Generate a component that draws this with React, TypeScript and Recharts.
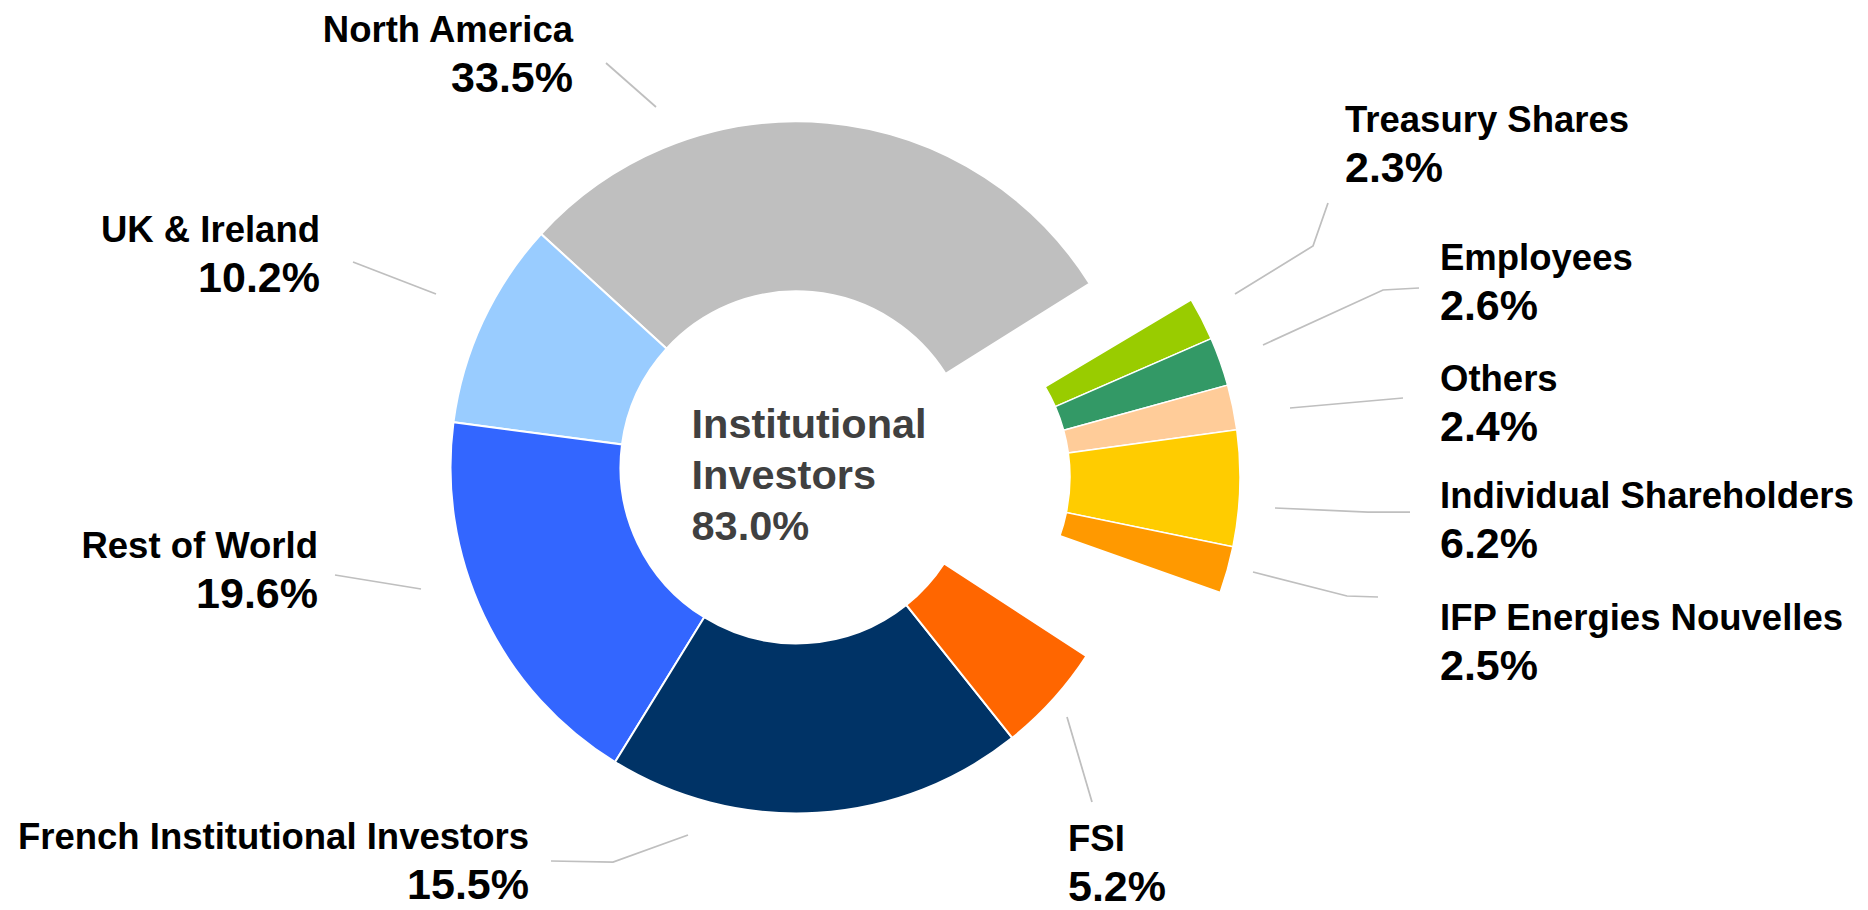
import React from 'react';
import { PieChart, Pie, Cell } from 'recharts';

// Slices that stay in the ring
const ringNames = ['North America', 'UK & Ireland', 'Rest of World', 'French Institutional Investors', 'FSI'];
const ringShares = [33.5, 10.2, 19.6, 15.5, 5.2];
// Size of each slice as it is drawn in the picture (% of the full circle)
const ringArcs = [29.3, 9.7, 18.3, 19.5, 5.1];
const ringGap = 18.1; // empty part of the ring left by the pulled-out slices
const ringColors = ['#BFBFBF', '#99CCFF', '#3366FF', '#003366', '#FF6600'];

// Slices pulled out of the ring (right side)
const outNames = ['Treasury Shares', 'Employees', 'Others', 'Individual Shareholders', 'IFP Energies Nouvelles'];
const outShares = [2.3, 2.6, 2.4, 6.2, 2.5];
const outColors = ['#99CC00', '#339966', '#FFCC99', '#FFCC00', '#FF9900'];

// Text in the hole
const centerTitle = ['Institutional', 'Investors'];
const centerShare = 83.0;

const FONT = '"Liberation Sans", Arial, sans-serif';

// tables for Recharts
const ringData = [
  ...ringNames.map((name, i) => ({ name, share: ringShares[i], arc: ringArcs[i], color: ringColors[i] })),
  { name: '__gap', share: 0, arc: ringGap, color: 'none' },
];
const outData = outNames.map((name, i) => ({ name, share: outShares[i], arc: outShares[i], color: outColors[i] }));

// where each label and its leader line goes (layout only)
type Spot = { x: number; y: number; anchor: 'start' | 'end'; line: number[][] };
const spots: Record<string, Spot> = {
  'North America': { x: 573, y: 42, anchor: 'end', line: [[606, 63], [656, 107]] },
  'UK & Ireland': { x: 320, y: 242, anchor: 'end', line: [[353, 262], [436, 294]] },
  'Rest of World': { x: 318, y: 558, anchor: 'end', line: [[335, 575], [421, 589]] },
  'French Institutional Investors': { x: 529, y: 849, anchor: 'end', line: [[551, 861], [613, 862], [688, 835]] },
  FSI: { x: 1068, y: 851, anchor: 'start', line: [[1067, 717], [1092, 802]] },
  'Treasury Shares': { x: 1345, y: 132, anchor: 'start', line: [[1328, 203], [1313, 246], [1235, 294]] },
  Employees: { x: 1440, y: 270, anchor: 'start', line: [[1419, 288], [1383, 290], [1263, 345]] },
  Others: { x: 1440, y: 391, anchor: 'start', line: [[1403, 398], [1290, 408]] },
  'Individual Shareholders': { x: 1440, y: 508, anchor: 'start', line: [[1410, 512], [1368, 512], [1275, 508]] },
  'IFP Energies Nouvelles': { x: 1440, y: 630, anchor: 'start', line: [[1378, 597], [1347, 596], [1253, 572]] },
};

// custom label: grey leader line + name + share (share a bit bigger)
const renderLabel = (props: any) => {
  const item = props.payload || {};
  const name = item.name ?? props.name;
  const spot = spots[name];
  if (!spot) return null;
  return (
    <g>
      <polyline
        points={spot.line.map((p) => p.join(',')).join(' ')}
        fill="none"
        stroke="#BFBFBF"
        strokeWidth={1.75}
      />
      <text x={spot.x} y={spot.y} textAnchor={spot.anchor} fontFamily={FONT} fontWeight="bold" fill="#000000">
        <tspan x={spot.x} fontSize={36.5}>{name}</tspan>
        <tspan x={spot.x} dy={50} fontSize={43}>{item.share.toFixed(1)}%</tspan>
      </text>
    </g>
  );
};

const RING_CX = 796.5;
const RING_CY = 467.4;

export default function App() {
  return (
    <div style={{ position: 'absolute', left: 0, top: 0, width: 1868, height: 910, background: '#ffffff' }}>
      <PieChart width={1868} height={910} margin={{ top: 0, right: 0, bottom: 0, left: 0 }}>
        <Pie
          data={ringData}
          dataKey="arc"
          nameKey="name"
          cx={RING_CX}
          cy={RING_CY}
          innerRadius={176}
          outerRadius={346}
          startAngle={32.1}
          endAngle={392.1}
          label={renderLabel}
          labelLine={false}
          isAnimationActive={false}
        >
          {ringData.map((d, i) => (
            <Cell
              key={i}
              fill={d.color}
              stroke={d.name === '__gap' ? 'none' : '#ffffff'}
              strokeWidth={2}
            />
          ))}
        </Pie>
        <Pie
          data={outData}
          dataKey="arc"
          nameKey="name"
          cx={894}
          cy={477}
          innerRadius={176}
          outerRadius={346}
          startAngle={30.8}
          endAngle={-19.5}
          label={renderLabel}
          labelLine={false}
          isAnimationActive={false}
        >
          {outData.map((d, i) => (
            <Cell key={i} fill={d.color} stroke="#ffffff" strokeWidth={1.5} />
          ))}
        </Pie>
        <text x={RING_CX - 105} y={RING_CY - 29} fontFamily={FONT} fontSize={41.5} fontWeight="bold" fill="#404040">
          <tspan x={RING_CX - 105}>{centerTitle[0]}</tspan>
          <tspan x={RING_CX - 105} dy={51}>{centerTitle[1]}</tspan>
          <tspan x={RING_CX - 105} dy={51}>{centerShare.toFixed(1)}%</tspan>
        </text>
      </PieChart>
    </div>
  );
}
